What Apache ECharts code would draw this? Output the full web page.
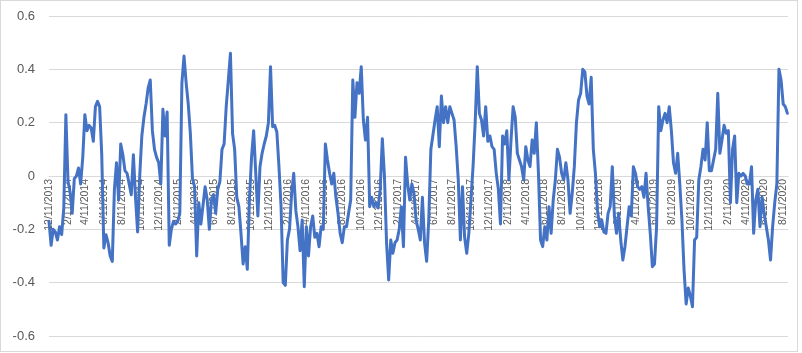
<!DOCTYPE html>
<html>
<head>
<meta charset="utf-8">
<script src="https://cdn.jsdelivr.net/npm/echarts@6/dist/echarts.min.js"></script>
<style>
  html, body { margin: 0; padding: 0; background: #fff; }
  #chart { position: absolute; left: 0; top: 0; width: 802px; height: 353px; }
  #frame { position: absolute; left: 0; top: 0; width: 798px; height: 352px; box-sizing: border-box; border: 1px solid #d9d9d9; pointer-events: none; }
</style>
</head>
<body>
<div id="chart"></div>
<div id="frame"></div>
<script>
// date range of the series (daily axis, Excel-style date axis)
const firstDate = '2013-12-11'
const lastDate = '2020-08-28'

// axis labels shown every two months
const tickLabels = [
  '12/11/2013', '2/11/2014', '4/11/2014', '6/11/2014', '8/11/2014', '10/11/2014',
  '12/11/2014', '2/11/2015', '4/11/2015', '6/11/2015', '8/11/2015', '10/11/2015',
  '12/11/2015', '2/11/2016', '4/11/2016', '6/11/2016', '8/11/2016', '10/11/2016',
  '12/11/2016', '2/11/2017', '4/11/2017', '6/11/2017', '8/11/2017', '10/11/2017',
  '12/11/2017', '2/11/2018', '4/11/2018', '6/11/2018', '8/11/2018', '10/11/2018',
  '12/11/2018', '2/11/2019', '4/11/2019', '6/11/2019', '8/11/2019', '10/11/2019',
  '12/11/2019', '2/11/2020', '4/11/2020', '6/11/2020', '8/11/2020'
]

// y axis ticks
const yTicks = [-0.6, -0.4, -0.2, 0, 0.2, 0.4, 0.6]

// one reading per week, starting at firstDate
const weeklyValues = [
  -0.17, -0.26, -0.2, -0.21, -0.24, -0.19, -0.22, -0.12, 0.23, -0.02,
  -0.06, -0.14, -0.01, 0.0, 0.03, -0.03, 0.07, 0.23, 0.17, 0.19,
  0.18, 0.13, 0.26, 0.28, 0.26, 0.08, -0.27, -0.22, -0.25, -0.3,
  -0.32, -0.05, 0.05, -0.09, 0.12, 0.08, 0.02, 0.01, -0.03, -0.07,
  0.08, -0.08, -0.21, 0.0, 0.15, 0.22, 0.27, 0.33, 0.36, 0.17,
  0.1, 0.07, 0.05, -0.03, 0.25, 0.15, 0.24, -0.26, -0.2, -0.17,
  -0.18, -0.17, -0.14, 0.35, 0.45, 0.35, 0.27, 0.16, -0.01, -0.04,
  -0.3, -0.1, -0.18, -0.11, -0.04, -0.09, -0.2, -0.09, -0.07, -0.14,
  -0.05, -0.02, 0.1, 0.12, 0.26, 0.36, 0.46, 0.16, 0.1, -0.08,
  -0.115, -0.215, -0.33, -0.265, -0.35, -0.09, 0.07, 0.17, 0.01, -0.15,
  0.035, 0.085, 0.12, 0.15, 0.2, 0.41, 0.185, 0.19, 0.165, 0.035,
  -0.115, -0.4, -0.41, -0.24, -0.2, -0.065, 0.01, -0.13, -0.19, -0.28,
  -0.165, -0.415, -0.19, -0.3, -0.19, -0.15, -0.23, -0.215, -0.265, -0.19,
  -0.2, 0.12, 0.06, 0.01, -0.03, 0.01, -0.08, -0.14, -0.215, -0.25,
  -0.19, -0.19, -0.14, -0.09, 0.36, 0.22, 0.35, 0.31, 0.41, 0.21,
  0.135, 0.22, -0.115, -0.08, -0.115, -0.1, -0.12, -0.05, 0.14, 0.0,
  -0.25, -0.39, -0.24, -0.29, -0.25, -0.24, -0.2, -0.115, -0.265, 0.07,
  -0.03, -0.09, -0.03, -0.065, -0.165, -0.2, -0.24, -0.08, -0.25, -0.32,
  -0.165, 0.1, 0.155, 0.21, 0.26, 0.11, 0.3, 0.2, 0.26, 0.2,
  0.26, 0.235, 0.21, 0.11, -0.015, -0.24, -0.04, -0.23, -0.29, -0.215,
  -0.09, 0.035, 0.2, 0.41, 0.235, 0.21, 0.15, 0.26, 0.13, 0.15,
  0.11, 0.1, 0.01, -0.05, -0.18, 0.15, 0.12, 0.17, -0.015, 0.135,
  0.26, 0.22, 0.085, 0.06, 0.035, -0.015, 0.11, 0.06, 0.035, 0.135,
  0.085, 0.2, 0.01, -0.24, -0.265, -0.19, -0.24, -0.115, -0.215, -0.09,
  -0.015, 0.1, 0.07, 0.01, -0.015, 0.05, -0.015, -0.14, -0.065, 0.035,
  0.2, 0.285, 0.31, 0.4, 0.39, 0.3, 0.27, 0.37, 0.1, 0.01,
  -0.13, -0.19, -0.165, -0.21, -0.215, -0.14, -0.115, 0.035, -0.15, -0.215,
  -0.14, -0.24, -0.315, -0.265, -0.19, -0.115, -0.15, 0.035, 0.01, -0.04,
  -0.05, -0.04, -0.08, 0.01, -0.115, -0.215, -0.34, -0.33, -0.19, 0.26,
  0.17, 0.21, 0.235, 0.2, 0.26, 0.17, 0.05, 0.01, 0.085, -0.03,
  -0.165, -0.35, -0.48, -0.42, -0.45, -0.49, -0.24, -0.23, -0.015, 0.035,
  0.1, 0.06, 0.2, 0.02, 0.02, 0.06, 0.1, 0.31, 0.085, 0.135,
  0.19, 0.16, 0.17, -0.1, 0.1, 0.15, -0.1, 0.01, 0.0, 0.01,
  0.0, -0.03, -0.03, 0.035, -0.215, -0.09, -0.05, -0.19, -0.08, -0.14,
  -0.19, -0.24, -0.315, -0.19, -0.1, -0.03, 0.4, 0.36, 0.27, 0.26,
  0.235
]

// every calendar day on the axis, formatted like Excel (M/D/YYYY)
const fmt = d => (d.getUTCMonth() + 1) + '/' + d.getUTCDate() + '/' + d.getUTCFullYear()
const days = []
for (let t = Date.parse(firstDate); t <= Date.parse(lastDate); t += 86400000) {
  days.push(fmt(new Date(t)))
}

const seriesData = weeklyValues.map((v, i) => [days[i * 7], v])

// plot area: 320px tall, the date axis crosses at y = 0 (half way up)
const plotHeight = 320

const chart = echarts.init(document.getElementById('chart'))
chart.setOption({
  animation: false,
  grid: { left: 49, right: 14, top: 16, bottom: 17, outerBoundsMode: 'none', containLabel: false },
  xAxis: {
    type: 'category',
    data: days,
    boundaryGap: false,
    offset: -plotHeight / 2,
    axisLine: { onZero: false, lineStyle: { color: '#d9d9d9', width: 1 } },
    axisTick: { show: false },
    axisLabel: {
      interval: (idx, val) => tickLabels.includes(val),
      rotate: 90,
      fontSize: 10.5,
      fontFamily: 'Liberation Sans',
      color: '#595959',
      margin: 3
    },
    splitLine: { show: false }
  },
  yAxis: {
    type: 'value',
    min: yTicks[0],
    max: yTicks[yTicks.length - 1],
    interval: 0.2,
    axisLine: { show: false },
    axisTick: { show: false },
    axisLabel: {
      fontSize: 13,
      fontFamily: 'Liberation Sans',
      color: '#595959',
      margin: 14,
      formatter: v => String(Math.round(v * 10) / 10)
    },
    splitLine: { lineStyle: { color: '#d9d9d9', width: 1 } }
  },
  series: [{
    type: 'line',
    data: seriesData,
    showSymbol: false,
    symbol: 'none',
    lineStyle: { color: '#4472C4', width: 3, join: 'round', cap: 'round' }
  }]
})
</script>
</body>
</html>
